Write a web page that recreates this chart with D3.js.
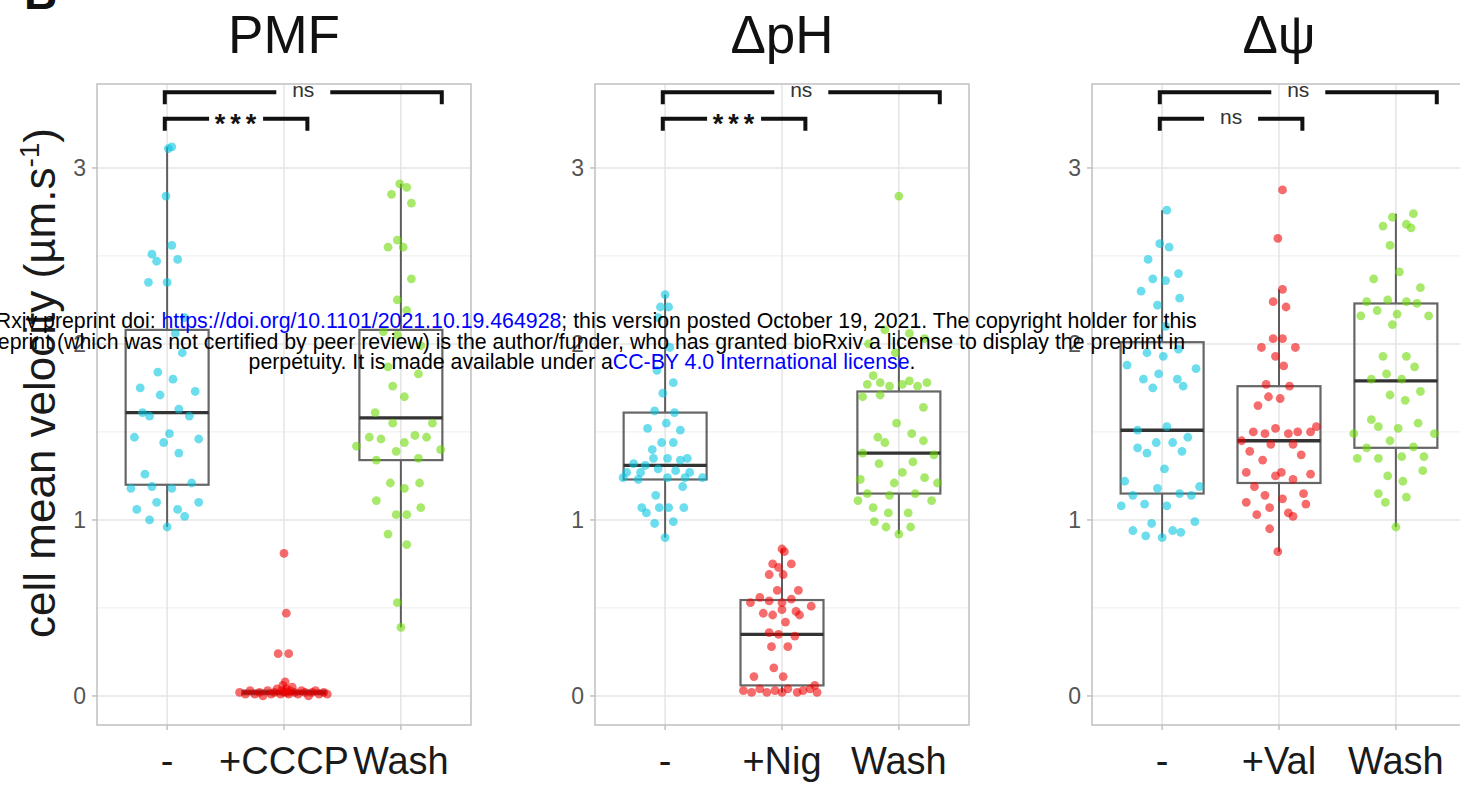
<!DOCTYPE html>
<html><head><meta charset="utf-8">
<script src="https://cdn.jsdelivr.net/npm/d3@7"></script>
<style>body{margin:0;background:#fff}svg{display:block}text{font-family:"Liberation Sans",Arial,sans-serif}</style>
</head><body>
<svg id="chart" width="1460" height="791"></svg>
<script>
// ---------------- data ----------------
const panelTitles = ["PMF", "\u0394pH", "\u0394\u03c8"];
const categoriesPMF = ["-", "+CCCP", "Wash"];
const categoriesPH = ["-", "+Nig", "Wash"];
const categoriesPSI = ["-", "+Val", "Wash"];
const yTickValues = [0, 1, 2, 3];
const yMinorValues = [0.5, 1.5, 2.5];
const groupColors = ["#00c5e0", "#f00000", "#69d900"];
const yAxisTitle = "cell mean velocity (\u00b5m.s";
const yAxisTitleSup = "-1";

// points: [jitter offset (fraction of category step), velocity]
const pmfControl = [[0.01,3.11],[0.04,3.12],[-0.01,2.84],[0.04,2.56],[-0.13,2.51],[-0.09,2.47],[0.09,2.48],[-0.16,2.35],[0.00,2.35],[0.15,2.15],[0.07,2.06],[0.13,1.95],[-0.08,1.84],[0.05,1.80],[-0.23,1.75],[-0.06,1.71],[0.24,1.73],[-0.21,1.61],[-0.15,1.59],[0.10,1.63],[0.19,1.59],[0.02,1.49],[-0.28,1.47],[-0.03,1.44],[0.27,1.46],[0.10,1.38],[-0.19,1.26],[0.21,1.21],[-0.31,1.18],[-0.13,1.19],[0.04,1.18],[-0.26,1.06],[-0.09,1.10],[0.09,1.06],[0.27,1.10],[-0.15,1.00],[0.15,1.02],[0.00,0.96]];
const pmfCCCP = [[-0.38,0.02],[-0.33,0.01],[-0.29,0.03],[-0.25,0.01],[-0.21,0.02],[-0.18,0.00],[-0.14,0.03],[-0.11,0.01],[-0.08,0.02],[-0.06,0.04],[-0.03,0.01],[-0.01,0.06],[0.00,0.02],[0.01,0.08],[0.02,0.04],[0.04,0.01],[0.05,0.03],[0.07,0.05],[0.09,0.02],[0.12,0.01],[0.15,0.03],[0.18,0.02],[0.21,0.00],[0.24,0.02],[0.27,0.03],[0.30,0.01],[0.34,0.02],[0.37,0.01],[-0.02,0.03],[0.03,0.02],[-0.05,0.24],[0.04,0.24],[0.02,0.47],[0.00,0.81]];
const pmfWash = [[-0.01,2.91],[0.05,2.89],[-0.08,2.85],[0.09,2.80],[-0.03,2.59],[-0.11,2.55],[0.02,2.55],[0.09,2.37],[-0.03,2.25],[0.05,2.19],[-0.15,2.07],[-0.03,2.05],[0.17,1.99],[-0.11,1.87],[0.15,1.83],[-0.07,1.76],[0.03,1.70],[-0.22,1.61],[-0.07,1.55],[0.27,1.55],[-0.27,1.47],[-0.17,1.46],[0.03,1.44],[0.12,1.48],[0.22,1.47],[-0.38,1.42],[-0.04,1.39],[0.34,1.40],[-0.21,1.34],[0.15,1.35],[-0.09,1.21],[0.16,1.21],[0.03,1.18],[-0.21,1.11],[0.17,1.07],[-0.04,1.03],[0.05,1.03],[-0.11,0.92],[0.05,0.86],[-0.03,0.53],[0.00,0.39]];

const phControl = [[0.00,2.28],[-0.04,2.21],[0.03,2.21],[-0.06,2.15],[0.04,1.98],[-0.07,1.85],[0.07,1.78],[-0.02,1.72],[-0.09,1.62],[0.08,1.61],[-0.15,1.52],[0.01,1.55],[0.13,1.51],[-0.03,1.44],[0.07,1.44],[-0.11,1.40],[-0.10,1.35],[-0.27,1.32],[-0.17,1.31],[0.02,1.35],[0.13,1.34],[0.19,1.35],[-0.33,1.27],[-0.21,1.27],[-0.06,1.29],[0.09,1.28],[0.21,1.27],[-0.36,1.24],[-0.23,1.23],[0.02,1.24],[0.17,1.24],[0.32,1.24],[0.15,1.19],[-0.08,1.14],[-0.20,1.07],[-0.05,1.07],[0.03,1.07],[0.16,1.07],[-0.16,1.04],[-0.09,0.98],[0.07,0.99],[0.00,0.90]];
const phNig = [[0.00,0.835],[0.02,0.82],[-0.08,0.75],[0.08,0.75],[-0.03,0.73],[-0.11,0.69],[0.01,0.69],[-0.04,0.60],[0.14,0.60],[-0.27,0.53],[-0.19,0.56],[-0.11,0.54],[0.00,0.53],[0.08,0.55],[0.25,0.51],[-0.16,0.47],[-0.08,0.46],[0.00,0.49],[0.12,0.48],[0.15,0.46],[0.03,0.42],[-0.11,0.36],[-0.03,0.35],[0.11,0.34],[-0.09,0.28],[0.05,0.28],[-0.07,0.16],[-0.24,0.11],[0.01,0.11],[-0.33,0.03],[-0.26,0.02],[-0.19,0.04],[-0.13,0.02],[-0.06,0.03],[0.00,0.02],[0.05,0.04],[0.13,0.02],[0.18,0.03],[0.24,0.04],[0.28,0.06],[0.30,0.02]];
const phWash = [[0.00,2.84],[-0.12,2.08],[0.09,2.06],[-0.26,2.00],[0.22,2.03],[-0.03,1.95],[-0.22,1.82],[-0.27,1.77],[-0.16,1.78],[-0.08,1.76],[0.03,1.77],[0.09,1.79],[0.16,1.76],[0.24,1.78],[-0.31,1.70],[-0.16,1.71],[0.21,1.64],[-0.02,1.55],[0.11,1.49],[-0.18,1.47],[-0.12,1.44],[0.21,1.45],[-0.31,1.38],[-0.17,1.32],[0.03,1.27],[0.12,1.33],[0.30,1.37],[-0.33,1.23],[-0.04,1.21],[0.22,1.24],[0.33,1.21],[-0.35,1.11],[-0.27,1.15],[-0.08,1.14],[0.14,1.15],[0.28,1.11],[-0.22,1.07],[-0.09,1.04],[0.08,1.04],[-0.21,0.99],[-0.11,0.96],[0.10,0.96],[0.00,0.92]];

const psiControl = [[0.04,2.76],[-0.02,2.57],[0.06,2.55],[-0.12,2.48],[0.14,2.40],[-0.08,2.37],[0.03,2.36],[-0.18,2.30],[0.15,2.26],[-0.04,2.22],[0.03,2.10],[-0.13,1.95],[0.01,1.93],[0.14,1.97],[-0.30,1.88],[0.29,1.86],[-0.03,1.83],[-0.16,1.80],[0.13,1.80],[-0.08,1.75],[0.18,1.76],[-0.21,1.51],[0.04,1.53],[0.22,1.47],[-0.21,1.41],[-0.13,1.38],[-0.05,1.44],[0.09,1.44],[0.17,1.39],[0.02,1.29],[-0.32,1.22],[-0.04,1.18],[0.32,1.19],[-0.25,1.14],[0.15,1.15],[0.25,1.14],[-0.35,1.08],[-0.15,1.09],[0.04,1.08],[-0.09,0.98],[0.28,0.99],[-0.25,0.94],[-0.14,0.91],[0.00,0.90],[0.09,0.94],[0.16,0.93]];
const psiVal = [[0.03,2.875],[-0.01,2.60],[0.03,2.31],[-0.05,2.24],[0.06,2.21],[-0.05,2.03],[0.03,2.03],[-0.15,1.98],[0.14,1.98],[-0.03,1.93],[0.04,1.875],[-0.11,1.77],[0.09,1.76],[-0.09,1.70],[0.01,1.69],[-0.18,1.65],[-0.22,1.50],[-0.12,1.49],[-0.03,1.52],[0.08,1.49],[0.16,1.50],[0.27,1.50],[0.32,1.53],[-0.32,1.45],[-0.07,1.43],[0.12,1.43],[-0.25,1.39],[0.19,1.37],[-0.14,1.34],[-0.28,1.27],[-0.03,1.25],[0.02,1.27],[0.12,1.23],[0.27,1.26],[-0.21,1.19],[-0.12,1.14],[0.21,1.15],[-0.28,1.10],[0.03,1.12],[0.23,1.09],[-0.08,1.07],[-0.19,1.03],[0.08,1.04],[0.12,1.02],[-0.08,0.95],[-0.01,0.82]];
const psiWash = [[0.15,2.74],[-0.03,2.72],[-0.11,2.67],[0.09,2.68],[0.13,2.66],[-0.05,2.56],[0.03,2.41],[-0.19,2.37],[0.21,2.32],[-0.25,2.24],[-0.07,2.25],[0.09,2.24],[0.18,2.23],[-0.16,2.19],[0.01,2.17],[-0.30,2.16],[0.28,2.16],[-0.03,2.11],[-0.11,1.93],[0.09,1.93],[0.16,1.87],[-0.08,1.83],[-0.21,1.80],[0.05,1.80],[0.21,1.73],[-0.05,1.71],[0.08,1.68],[-0.21,1.57],[-0.15,1.53],[0.02,1.52],[0.19,1.55],[-0.36,1.49],[-0.05,1.45],[0.33,1.49],[-0.25,1.41],[0.15,1.415],[-0.33,1.35],[-0.15,1.35],[0.05,1.36],[0.24,1.36],[0.23,1.28],[-0.07,1.25],[0.06,1.22],[-0.15,1.15],[0.09,1.13],[-0.09,1.10],[0.00,0.96]];

// box stats: [lower whisker, Q1, median, Q3, upper whisker]
const pmfBoxes = [[0.96,1.20,1.61,2.08,3.12],[0.00,0.01,0.02,0.03,0.06],[0.39,1.34,1.58,2.08,2.91]];
const phBoxes  = [[0.90,1.23,1.31,1.61,2.28],[0.02,0.06,0.35,0.545,0.835],[0.92,1.15,1.38,1.73,2.08]];
const psiBoxes = [[0.90,1.15,1.51,2.01,2.76],[0.82,1.21,1.45,1.76,2.31],[0.96,1.41,1.79,2.23,2.74]];

// significance brackets: [from category index, to category index, bar height]
const bracketSpans = [[0.98, 2.2, 3.28], [0.98, 3.35, 3.43]];
const sigPMF = ["***", "ns"];
const sigPH = ["***", "ns"];
const sigPSI = ["ns", "ns"];

const panels = [
  {title: panelTitles[0], cats: categoriesPMF, pts: [pmfControl, pmfCCCP, pmfWash], boxes: pmfBoxes, sig: sigPMF},
  {title: panelTitles[1], cats: categoriesPH,  pts: [phControl, phNig, phWash],     boxes: phBoxes,  sig: sigPH},
  {title: panelTitles[2], cats: categoriesPSI, pts: [psiControl, psiVal, psiWash],  boxes: psiBoxes, sig: sigPSI}
];

// ---------------- layout ----------------
const svg = d3.select("#chart");
const panelLeft = [97, 595, 1092];
const panelWidth = 374, panelTop = 84, panelBottom = 725;
const y = d3.scaleLinear().domain([-0.165, 3.477]).range([panelBottom, panelTop]);

svg.append("rect").attr("width", 1460).attr("height", 791).attr("fill", "#fff");

panels.forEach((p, pi) => {
  const L = panelLeft[pi];
  const x = d3.scalePoint().domain(p.cats).range([L, L + panelWidth]).padding(0.6);
  const step = x.step();
  const xi = i => x(p.cats[0]) + (i - 1) * step;
  const g = svg.append("g");

  // grid
  g.selectAll(".minor").data(yMinorValues).join("line")
    .attr("x1", L).attr("x2", L + panelWidth).attr("y1", d => y(d)).attr("y2", d => y(d))
    .attr("stroke", "#f1f1f1").attr("stroke-width", 1.2);
  g.selectAll(".major").data(yTickValues).join("line")
    .attr("x1", L).attr("x2", L + panelWidth).attr("y1", d => y(d)).attr("y2", d => y(d))
    .attr("stroke", "#e6e6e6").attr("stroke-width", 1.6);
  g.selectAll(".vgrid").data(p.cats).join("line")
    .attr("x1", d => x(d)).attr("x2", d => x(d)).attr("y1", panelTop).attr("y2", panelBottom)
    .attr("stroke", "#e6e6e6").attr("stroke-width", 1.6);
  // border
  g.append("rect").attr("x", L).attr("y", panelTop).attr("width", panelWidth).attr("height", panelBottom - panelTop)
    .attr("fill", "none").attr("stroke", "#c4c4c4").attr("stroke-width", 1.6);

  // axis ticks
  g.selectAll(".yt").data(yTickValues).join("line")
    .attr("x1", L - 5).attr("x2", L).attr("y1", d => y(d)).attr("y2", d => y(d))
    .attr("stroke", "#bdbdbd").attr("stroke-width", 1.4);
  g.selectAll(".xt").data(p.cats).join("line")
    .attr("x1", d => x(d)).attr("x2", d => x(d)).attr("y1", panelBottom).attr("y2", panelBottom + 5)
    .attr("stroke", "#bdbdbd").attr("stroke-width", 1.4);
  g.selectAll(".yl").data(yTickValues).join("text")
    .attr("x", L - 11).attr("y", d => y(d)).attr("dy", "0.36em").attr("text-anchor", "end")
    .attr("font-size", 23).attr("fill", "#555").text(d => d);
  g.selectAll(".xl").data(p.cats).join("text")
    .attr("x", d => x(d)).attr("y", 774).attr("text-anchor", "middle")
    .attr("font-size", 38).attr("fill", "#1a1a1a").text(d => d);

  // title
  g.append("text").attr("x", L + panelWidth / 2).attr("y", 53).attr("text-anchor", "middle")
    .attr("font-size", 53).attr("fill", "#111").text(p.title);

  // boxes
  const bw = step * 0.71;
  p.boxes.forEach((b, ci) => {
    const cx = x(p.cats[ci]);
    const bg = g.append("g");
    bg.append("line").attr("x1", cx).attr("x2", cx).attr("y1", y(b[0])).attr("y2", y(b[1]))
      .attr("stroke", "#5e5e5e").attr("stroke-width", 2);
    bg.append("line").attr("x1", cx).attr("x2", cx).attr("y1", y(b[3])).attr("y2", y(b[4]))
      .attr("stroke", "#5e5e5e").attr("stroke-width", 2);
    bg.append("rect").attr("x", cx - bw / 2).attr("y", y(b[3])).attr("width", bw)
      .attr("height", Math.max(0.5, y(b[1]) - y(b[3])))
      .attr("fill", "none").attr("stroke", "#666").attr("stroke-width", 2.2);
    bg.append("line").attr("x1", cx - bw / 2).attr("x2", cx + bw / 2).attr("y1", y(b[2])).attr("y2", y(b[2]))
      .attr("stroke", "#333").attr("stroke-width", 3.4);
  });

  // points
  p.pts.forEach((arr, ci) => {
    g.append("g").selectAll("circle").data(arr).join("circle")
      .attr("cx", d => x(p.cats[ci]) + d[0] * step)
      .attr("cy", d => y(d[1]))
      .attr("r", 4.4)
      .attr("fill", groupColors[ci]).attr("fill-opacity", 0.58);
  });

  // significance brackets
  bracketSpans.forEach((s, si) => {
    const x1 = xi(s[0]), x2 = xi(s[1]), yy = y(s[2]), tip = y(s[2] - 0.068);
    const mid = (x1 + x2) / 2, gap = 27;
    const bk = g.append("g").attr("fill", "none").attr("stroke", "#111").attr("stroke-width", 4);
    bk.append("path").attr("d", `M${x1},${tip}V${yy}H${mid - gap}`);
    bk.append("path").attr("d", `M${mid + gap},${yy}H${x2}V${tip}`);
    const lab = p.sig[si];
    if (lab === "ns") {
      g.append("text").attr("x", mid).attr("y", yy + 5).attr("text-anchor", "middle")
        .attr("font-size", 21).attr("fill", "#333").text(lab);
    } else {
      g.append("text").attr("x", mid + 2).attr("y", yy + 14).attr("text-anchor", "middle")
        .attr("font-size", 27).attr("font-weight", "bold").attr("letter-spacing", 5)
        .attr("fill", "#111").text(lab);
    }
  });
});

// y axis title
const yt = svg.append("text").attr("transform", "translate(55,383) rotate(-90)")
  .attr("text-anchor", "middle").attr("font-size", 44).attr("fill", "#1a1a1a");
yt.append("tspan").text(yAxisTitle);
yt.append("tspan").attr("dy", -16).attr("font-size", 28).text(yAxisTitleSup);
yt.append("tspan").attr("dy", 16).text(")");

// panel letter (cut off at top)
svg.append("text").attr("x", 24).attr("y", 9).attr("font-size", 46).attr("font-weight", "bold")
  .attr("fill", "#111").text("B");

// watermark lines
const wm = svg.append("g").attr("font-size", 21.3).attr("fill", "#000").attr("text-anchor", "middle");
const wmLines = [
  [["bioRxiv preprint doi: ", "#000"], ["https://doi.org/10.1101/2021.10.19.464928", "#0000ff"], ["; this version posted October 19, 2021. The copyright holder for this", "#000"]],
  [["preprint (which was not certified by peer review) is the author/funder, who has granted bioRxiv a license to display the preprint in", "#000"]],
  [["perpetuity. It is made available under a", "#000"], ["CC-BY 4.0 International license", "#0000ff"], [".", "#000"]]
];
wmLines.forEach((ln, li) => {
  const t = wm.append("text").attr("x", 582).attr("y", 328 + li * 20.5);
  ln.forEach(seg => t.append("tspan").attr("fill", seg[1]).text(seg[0]));
});
</script>
</body></html>
